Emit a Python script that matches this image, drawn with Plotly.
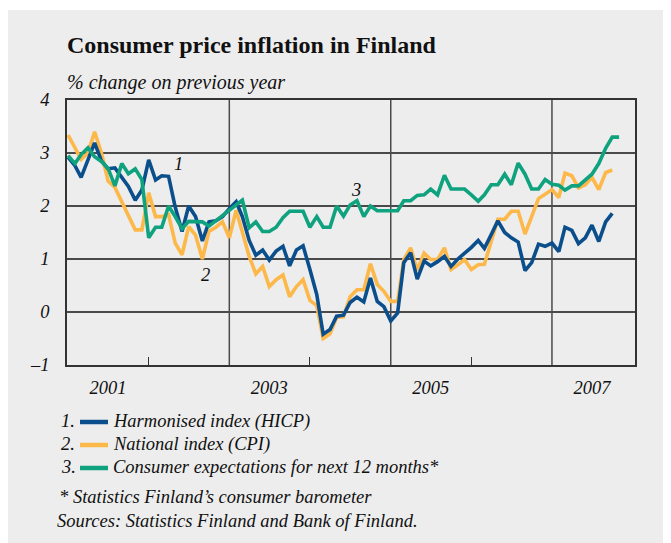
import plotly.graph_objects as go
import pandas as pd

# ---------------- data ----------------
months = pd.date_range("2001-01-01", periods=83, freq="MS")

# 1. Harmonised index (HICP), Jan 2001 - Oct 2007
hicp = [2.92, 2.76, 2.54, 2.85, 3.19, 2.85, 2.70, 2.72, 2.53, 2.37, 2.11, 2.30,
        2.87, 2.49, 2.57, 2.56, 1.98, 1.52, 2.00, 1.80, 1.34, 1.70, 1.72, 1.80,
        1.95, 2.08, 1.80, 1.35, 1.07, 1.17, 0.98, 1.15, 1.24, 0.87, 1.17, 1.25,
        0.80, 0.33, -0.42, -0.33, -0.08, -0.06, 0.18, 0.28, 0.19, 0.64, 0.20, 0.10,
        -0.17, -0.02, 0.93, 1.12, 0.62, 0.96, 0.87, 0.95, 1.05, 0.86, 1.00, 1.10,
        1.22, 1.35, 1.20, 1.46, 1.72, 1.50, 1.40, 1.32, 0.78, 0.93, 1.28, 1.24,
        1.30, 1.14, 1.60, 1.54, 1.29, 1.40, 1.64, 1.33, 1.70, 1.86]

# 2. National index (CPI), Jan 2001 - Oct 2007
cpi = [3.34, 3.10, 2.88, 3.00, 3.40, 3.00, 2.47, 2.35, 2.08, 1.80, 1.55, 1.55,
       2.25, 1.80, 1.80, 1.84, 1.30, 1.08, 1.61, 1.45, 1.00, 1.52, 1.60, 1.70,
       1.40, 1.92, 1.48, 1.05, 0.72, 0.86, 0.48, 0.61, 0.70, 0.29, 0.48, 0.61,
       0.22, 0.12, -0.50, -0.41, -0.10, -0.09, 0.29, 0.42, 0.42, 0.91, 0.52, 0.39,
       0.20, 0.20, 0.99, 1.21, 0.79, 1.11, 0.99, 0.99, 1.21, 0.80, 0.89, 0.99,
       0.80, 0.89, 0.90, 1.33, 1.75, 1.75, 1.90, 1.90, 1.47, 1.80, 2.14, 2.22,
       2.31, 2.16, 2.62, 2.57, 2.34, 2.40, 2.54, 2.31, 2.63, 2.68]

# 3. Consumer expectations for next 12 months, Jan 2001 - Nov 2007
expect = [2.95, 2.80, 2.97, 3.10, 2.93, 2.84, 2.71, 2.38, 2.80, 2.61, 2.70, 2.50,
          1.40, 1.60, 1.60, 2.00, 1.80, 1.57, 1.71, 1.71, 1.70, 1.62, 1.72, 1.81,
          1.91, 2.01, 2.11, 1.59, 1.70, 1.52, 1.52, 1.60, 1.78, 1.90, 1.90, 1.90,
          1.60, 1.80, 1.60, 1.60, 2.00, 1.81, 2.02, 2.10, 1.80, 2.00, 1.91, 1.91,
          1.91, 1.91, 2.10, 2.10, 2.20, 2.21, 2.32, 2.21, 2.58, 2.32, 2.32, 2.32,
          2.21, 2.09, 2.21, 2.40, 2.40, 2.60, 2.40, 2.81, 2.60, 2.32, 2.32, 2.50,
          2.41, 2.39, 2.30, 2.38, 2.38, 2.50, 2.60, 2.80, 3.09, 3.30, 3.30]

series_names = ["Harmonised index (HICP)", "National index (CPI)",
                "Consumer expectations for next 12 months*"]
y_tickvals = [-1, 0, 1, 2, 3, 4]
y_ticktext = ["\u20131", "0", "1", "2", "3", "4"]
x_label_years = ["2001", "2003", "2005", "2007"]
x_label_pos = ["2001-07-01", "2003-07-01", "2005-07-01", "2007-07-01"]
x_grid_years = ["2003-01-01", "2005-01-01", "2007-01-01"]
x_minor_ticks = ["2002-01-01", "2004-01-01", "2006-01-01"]

# ---------------- style ----------------
BLUE = "#0A4E8C"
YELLOW = "#FDB84A"
GREEN = "#0FA27F"
BG = "#EDEDED"
FONT = "Liberation Serif"
OFF = 8                      # page body margin in the browser
W, H = 671 - OFF, 543 - OFF
L, R, T, B = 67 - OFF, 36, 100 - OFF, 178
PW, PH = W - L - R, H - T - B


def px(x):
    """page pixel x -> paper coordinate"""
    return (x - OFF - L) / PW


def py(y):
    """page pixel y -> paper coordinate"""
    return (H - B - (y - OFF)) / PH


TXT = dict(family=FONT, size=18.5, color="#111", style="italic")

fig = go.Figure()
fig.add_trace(go.Scatter(x=months[:len(cpi)], y=cpi, mode="lines", name=series_names[1],
                         line=dict(color=YELLOW, width=3.6)))
fig.add_trace(go.Scatter(x=months[:len(hicp)], y=hicp, mode="lines", name=series_names[0],
                         line=dict(color=BLUE, width=3.6)))
fig.add_trace(go.Scatter(x=months[:len(expect)], y=expect, mode="lines", name=series_names[2],
                         line=dict(color=GREEN, width=3.6)))

shapes = [
    dict(type="rect", xref="paper", yref="paper", x0=px(0), x1=px(680),
         y0=py(560), y1=py(10), fillcolor=BG, line=dict(width=0), layer="below"),
]
for d in x_grid_years:
    shapes.append(dict(type="line", xref="x", yref="paper", x0=d, x1=d, y0=0, y1=1,
                       line=dict(color="#4a4a4a", width=1.5), layer="below"))

annotations = [
    dict(text="Consumer price inflation in Finland", x=px(65), y=py(45), xref="paper", yref="paper",
         xanchor="left", yanchor="middle", showarrow=False,
         font=dict(family=FONT, size=24, color="#111", weight="bold")),
    dict(text="% change on previous year", x=px(65), y=py(82), xref="paper", yref="paper",
         xanchor="left", yanchor="middle", showarrow=False,
         font=dict(family=FONT, size=20, color="#111", style="italic")),
    # line labels
    dict(text="1", x="2002-05-17", y=2.79, xref="x", yref="y", showarrow=False, font=TXT),
    dict(text="2", x="2002-09-15", y=0.70, xref="x", yref="y", showarrow=False, font=TXT),
    dict(text="3", x="2004-07-27", y=2.31, xref="x", yref="y", showarrow=False, font=TXT),
]

legend_rows = [421, 444, 467]
legend_colors = [BLUE, YELLOW, GREEN]
for i, (yy, col, name) in enumerate(zip(legend_rows, legend_colors, series_names)):
    annotations.append(dict(text=f"{i + 1}.", x=px(59), y=py(yy), xref="paper", yref="paper",
                            xanchor="left", yanchor="middle", showarrow=False, font=TXT))
    annotations.append(dict(text=name, x=px(111), y=py(yy), xref="paper", yref="paper",
                            xanchor="left", yanchor="middle", showarrow=False, font=TXT))
    shapes.append(dict(type="line", xref="paper", yref="paper", x0=px(80), x1=px(108),
                       y0=py(yy + 1), y1=py(yy + 1), line=dict(color=col, width=4.5), layer="above"))

annotations.append(dict(text="* Statistics Finland\u2019s consumer barometer", x=px(57), y=py(497),
                        xref="paper", yref="paper", xanchor="left", yanchor="middle",
                        showarrow=False, font=TXT))
annotations.append(dict(text="Sources: Statistics Finland and Bank of Finland.", x=px(55), y=py(521),
                        xref="paper", yref="paper", xanchor="left", yanchor="middle",
                        showarrow=False, font=TXT))

fig.update_layout(
    width=W, height=H,
    margin=dict(l=L, r=R, t=T, b=B, pad=0),
    paper_bgcolor="white",
    plot_bgcolor="rgba(0,0,0,0)",
    showlegend=False,
    font=dict(family=FONT, size=18, color="#111"),
    shapes=shapes,
    annotations=annotations,
    xaxis=dict(
        type="date", range=["2000-12-27", "2008-01-12"],
        tickmode="array", tickvals=x_label_pos, ticktext=x_label_years,
        tickfont=TXT,
        ticks="", showgrid=False, zeroline=False,
        showline=True, linecolor="#333", linewidth=1.5, mirror=True,
        ticklabelstandoff=5,
        minor=dict(tickmode="array", tickvals=x_minor_ticks, ticks="inside", ticklen=8,
                   tickcolor="#333", tickwidth=1.2, showgrid=False),
    ),
    yaxis=dict(
        range=[-1, 4], tickmode="array", tickvals=y_tickvals, ticktext=y_ticktext,
        tickfont=TXT,
        ticks="", showgrid=True, gridcolor="#4a4a4a", gridwidth=1.5, zeroline=False,
        showline=True, linecolor="#333", linewidth=1.5, mirror=True,
        ticklabelstandoff=12,
    ),
)

fig.write_html("out.html")
